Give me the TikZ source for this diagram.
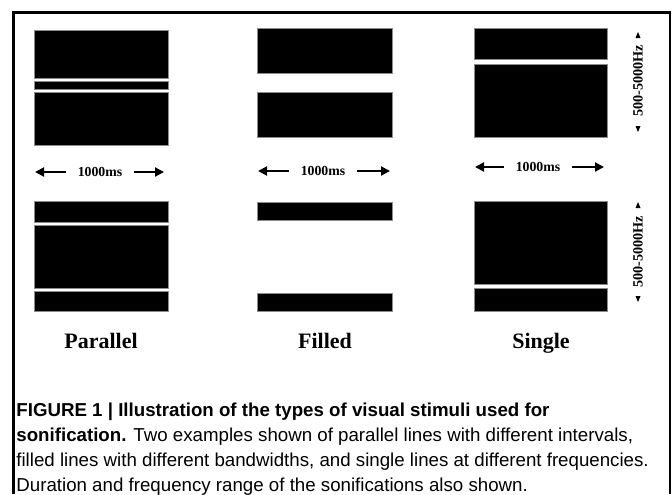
\documentclass[tikz,border=0pt]{standalone}
\usepackage{fontspec}
\setmainfont{Liberation Serif}
\newfontfamily\capfont{Liberation Sans}
\usetikzlibrary{arrows.meta,positioning}
\definecolor{stInk}{HTML}{000000}
\definecolor{stEdge}{HTML}{8C8C8C}
\tikzset{
 stim/.style={line cap=butt,line join=miter},
 bar/.style={fill=stInk,draw=stEdge,line width=.35pt},
 frame/.style={draw=stInk,line width=1.1pt},
 durlabel/.style={font=\fontsize{6.9}{8}\selectfont\bfseries,inner xsep=5.5pt,inner ysep=1pt},
 durarrow/.style={draw=stInk,line width=1pt,-{Triangle[length=4.5pt,width=4.5pt]}},
 hzlabel/.style={font=\fontsize{7.1}{8}\selectfont\bfseries,rotate=90,inner sep=0pt},
 hztip/.style={fill=stInk},
 typelabel/.style={font=\fontsize{11}{13}\selectfont\bfseries,anchor=base},
 caption/.style={font=\capfont\fontsize{9.35}{12.5}\selectfont,align=left,anchor=north west,inner sep=0pt}
}

\begin{document}
\begin{tikzpicture}[stim,x=.5pt,y=-.5pt]
 \useasboundingbox (0,0) rectangle (672,494);
 \draw[frame] (13.5,494) -- (13.5,12.5) -- (670,12.5) -- (670,494);
 % stimulus bars: parallel, filled, single (upper and lower example)
 \foreach \xa/\xb/\ya/\yb in {34/168/30/78,34/168/81/89,34/168/92/145,34/168/201/222,34/168/225/288,34/168/291/311,
   257/392/28/73,257/392/92/137,257/392/202/220,257/392/293/311,
   474/607/28/59,474/607/64/137,474/607/201/284,474/607/288/311}{
  \draw[bar] (\xa,\ya) rectangle (\xb,\yb);
 }
 % duration
 \node[durlabel] (durP) at (100,172) {1000ms};
 \node[durlabel] (durF) at (323,171) {1000ms};
 \node[durlabel] (durS) at (538,167) {1000ms};
 \coordinate (durPl) at (35,172); \coordinate (durPr) at (164,172);
 \coordinate (durFl) at (258,171); \coordinate (durFr) at (390,171);
 \coordinate (durSl) at (475,167); \coordinate (durSr) at (604,167);
 \foreach \n in {P,F,S}{
  \draw[durarrow] (dur\n.west) -- (dur\n l);
  \draw[durarrow] (dur\n.east) -- (dur\n r);
 }
 % frequency range
 \node[hzlabel] (hzTop) at (638,81) {500-5000Hz};
 \node[hzlabel] (hzBot) at (638,252) {500-5000Hz};
 \fill[hztip] (635.5,38) -- (640.5,38) -- (638,32) -- cycle;
 \fill[hztip] (635.5,126) -- (640.5,126) -- (638,132) -- cycle;
 \fill[hztip] (635.5,208) -- (640.5,208) -- (638,202) -- cycle;
 \fill[hztip] (635.5,296) -- (640.5,296) -- (638,302) -- cycle;
 % types
 \node[typelabel] (tyP) at (101,348) {Parallel};
 \node[typelabel] (tyF) at (325,348) {Filled};
 \node[typelabel] (tyS) at (541,348) {Single};
 \node[caption] (cap) at (16,402.5) {\textbf{FIGURE 1 | Illustration of the types of visual stimuli used for}\\
  \textbf{sonification.} Two examples shown of parallel lines with different intervals,\\
  filled lines with different bandwidths, and single lines at different frequencies.\\
  Duration and frequency range of the sonifications also shown.};
\end{tikzpicture}
\end{document}
